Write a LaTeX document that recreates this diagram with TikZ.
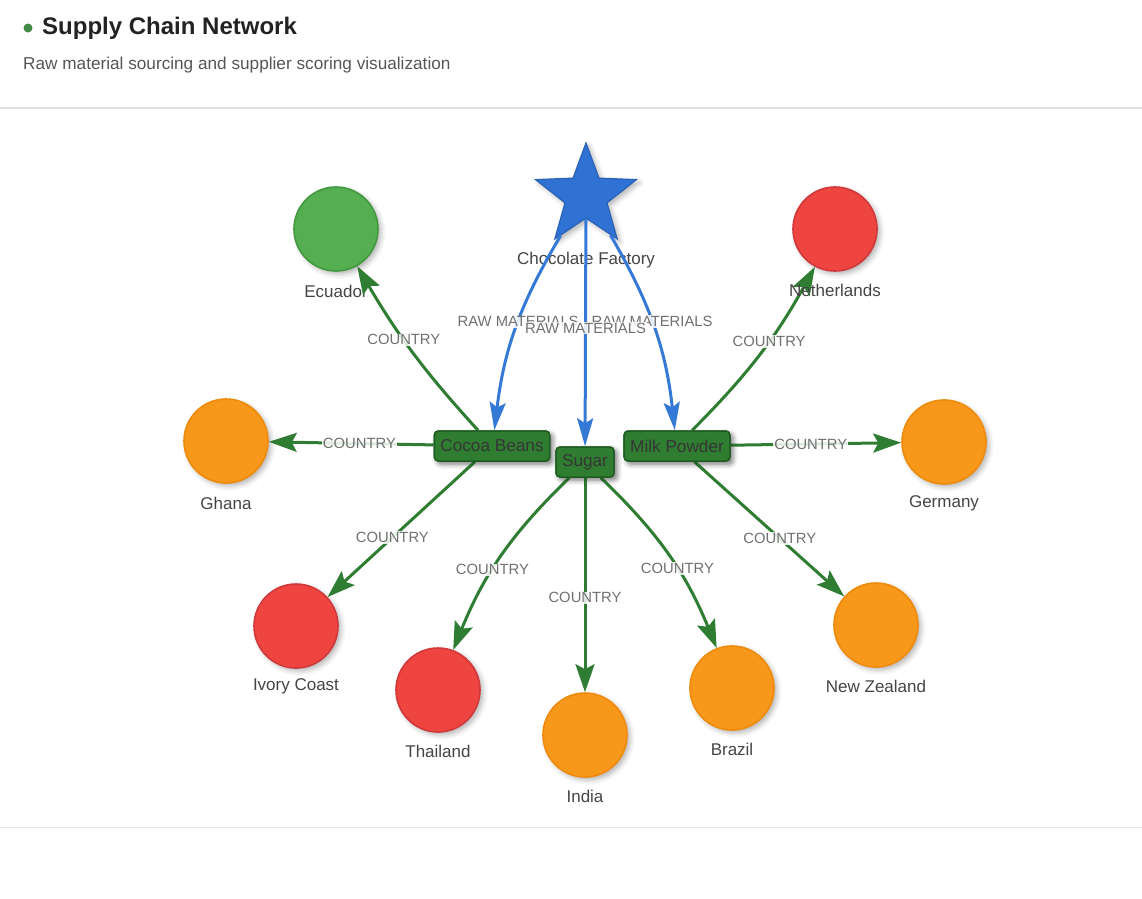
\documentclass[tikz,border=0pt]{standalone}
\usepackage{fontspec}
\setmainfont{Liberation Sans}
\usetikzlibrary{shapes.geometric,arrows.meta,shadows.blur}
\definecolor{edgegreen}{HTML}{2E7D32}
\definecolor{rectgreen}{HTML}{2F7D30}
\definecolor{rectborder}{HTML}{1F5E22}
\definecolor{edgeblue}{HTML}{3479D6}
\definecolor{starblue}{HTML}{2F72D3}
\definecolor{starborder}{HTML}{2A62B5}
\definecolor{cgreen}{HTML}{55AE4F}
\definecolor{cgreenb}{HTML}{43993F}
\definecolor{cred}{HTML}{EF4540}
\definecolor{credb}{HTML}{D0383A}
\definecolor{corange}{HTML}{F7981A}
\definecolor{corangeb}{HTML}{EF8A0A}
\definecolor{labelgray}{HTML}{444444}
\definecolor{elabelgray}{HTML}{707070}
\definecolor{titlecol}{HTML}{222222}
\definecolor{subcol}{HTML}{555555}
\definecolor{rulecol}{HTML}{E0E0E0}
\begin{document}
\begin{tikzpicture}[x=1pt,y=1pt,
  shadowed/.style={blur shadow={shadow xshift=3pt, shadow yshift=-3pt, shadow blur radius=5pt, shadow opacity=30}},
  country/.style={circle, minimum size=84pt, inner sep=0pt, line width=1.6pt, shadowed},
  cgreennode/.style={country, fill=cgreen, draw=cgreenb},
  crednode/.style={country, fill=cred, draw=credb},
  corangenode/.style={country, fill=corange, draw=corangeb},
  material/.style={rectangle, rounded corners=4pt, fill=rectgreen, draw=rectborder, line width=1.5pt,
    minimum height=30pt, inner xsep=6pt, text=labelgray!80!black, font=\fontsize{17.2}{19}\selectfont, shadowed},
  nlabel/.style={text=labelgray, font=\fontsize{17}{19}\selectfont, inner sep=1pt},
  elabel/.style={text=elabelgray, font=\fontsize{14.8}{16}\selectfont, fill=white, fill opacity=0.85, text opacity=1, inner sep=1pt},
  garrow/.style={draw=edgegreen, line width=3pt, -{Stealth[length=28pt,width=19pt,inset=5pt]}},
  barrow/.style={draw=edgeblue, line width=3pt, -{Stealth[length=28pt,width=16pt,inset=5pt]}}
]
\useasboundingbox (0,0) rectangle (1142,-898);
% header
\fill[edgegreen!90!white] (28,-28) circle (4.5pt);
\node[anchor=west, inner sep=0pt, text=titlecol, font=\bfseries\fontsize{24}{26}\selectfont] (title) at (42,-28) {Supply Chain Network};
\node[anchor=west, inner sep=0pt, text=subcol, font=\fontsize{17.2}{19}\selectfont] (subtitle) at (23,-65) {Raw material sourcing and supplier scoring visualization};
\draw[rulecol, line width=2pt] (0,-108) -- (1142,-108);
\draw[rulecol!80!white, line width=1pt] (0,-827.5) -- (1142,-827.5);

% factory
\node[star, star points=5, star point ratio=2.4, minimum size=106pt, inner sep=0pt, fill=starblue, draw=starborder, line width=1.2pt, shadowed] (factory) at (586,-196) {};
\node[nlabel] (factorylabel) at (586,-260) {Chocolate Factory};

% materials
\node[material] (cocoa) at (492,-446) {Cocoa Beans};
\node[material] (sugar) at (585,-462) {Sugar};
\node[material] (milk) at (677,-446) {Milk Powder};

% countries
\node[cgreennode] (ecuador) at (336,-229) {};
\node[nlabel] (ecuadorl) at (336,-291) {Ecuador};
\node[crednode] (netherlands) at (835,-229) {};
\node[corangenode] (ghana) at (226,-441) {};
\node[nlabel] (ghanal) at (226,-503) {Ghana};
\node[corangenode] (germany) at (944,-442) {};
\node[nlabel] (germanyl) at (944,-503) {Germany};
\node[crednode] (ivory) at (296,-626) {};
\node[nlabel] (ivoryl) at (296,-686) {Ivory Coast};
\node[crednode] (thailand) at (438,-690) {};
\node[nlabel] (thailandl) at (438,-751) {Thailand};
\node[corangenode] (india) at (585,-735) {};
\node[nlabel] (indial) at (585,-796) {India};
\node[corangenode] (brazil) at (732,-688) {};
\node[nlabel] (brazill) at (732,-749) {Brazil};
\node[corangenode] (nz) at (876,-625) {};
\node[nlabel] (nzl) at (876,-686) {New Zealand};

% blue edges
\draw[barrow] (factory) to[bend right=12] node[elabel, pos=0.46] {RAW MATERIALS} (cocoa);
\draw[barrow] (factory) to[bend left=12] node[elabel, pos=0.46] {RAW MATERIALS} (milk);
\draw[barrow] (factory) -- node[elabel, pos=0.48] {RAW MATERIALS} (sugar);

% green edges
\draw[garrow] (cocoa) to[bend left=6] node[elabel, pos=0.58] {COUNTRY} (ecuador);
\draw[garrow] (cocoa) -- node[elabel, pos=0.45] {COUNTRY} (ghana);
\draw[garrow] (cocoa) -- node[elabel, pos=0.56] {COUNTRY} (ivory);
\draw[garrow] (sugar) to[bend right=12] node[elabel, pos=0.58] {COUNTRY} (thailand);
\draw[garrow] (sugar) -- node[elabel, pos=0.56] {COUNTRY} (india);
\draw[garrow] (sugar) to[bend left=12] node[elabel, pos=0.58] {COUNTRY} (brazil);
\draw[garrow] (milk) to[bend right=8] node[elabel, pos=0.58] {COUNTRY} (netherlands);
\draw[garrow] (milk) -- node[elabel, pos=0.47] {COUNTRY} (germany);
\draw[garrow] (milk) -- node[elabel, pos=0.57] {COUNTRY} (nz);

% redraw material nodes on top
\node[material] at (cocoa) {Cocoa Beans};
\node[material] at (sugar) {Sugar};
\node[material] at (milk) {Milk Powder};
\node[nlabel] (netherlandsl) at (835,-290) {Netherlands};
\end{tikzpicture}
\end{document}
